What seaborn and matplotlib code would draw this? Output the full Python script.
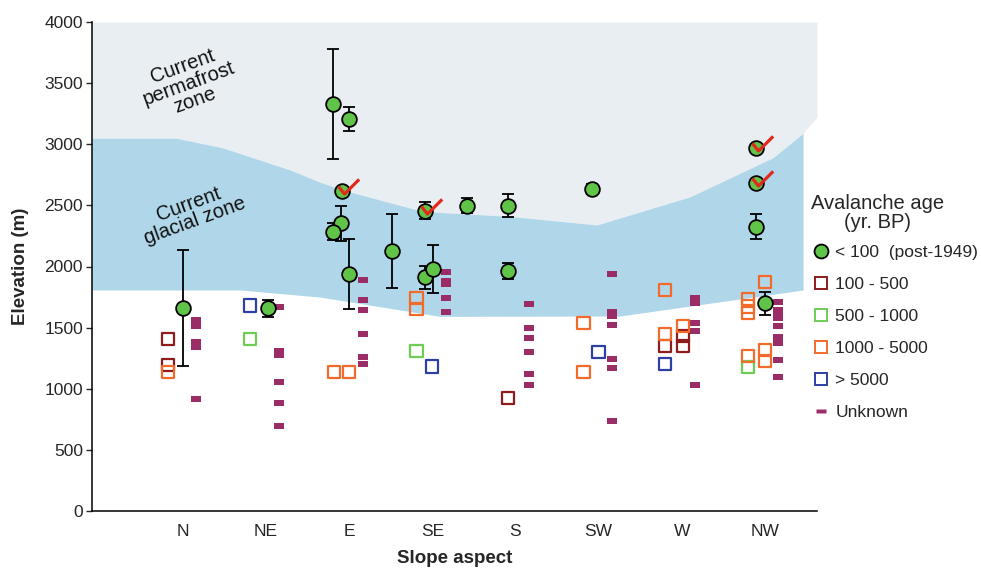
import numpy as np
import pandas as pd
import matplotlib
matplotlib.use("Agg")
import matplotlib.pyplot as plt
import seaborn as sns
from matplotlib.lines import Line2D
from matplotlib.path import Path

# ---------------------------------------------------------------- data
ASPECTS = ["N", "NE", "E", "SE", "S", "SW", "W", "NW"]
Y_TICKS = [0, 500, 1000, 1500, 2000, 2500, 3000, 3500, 4000]

# post-1949 avalanches (dated from imagery), with elevation uncertainty
recent_aspect = ["N", "NE", "E", "E", "E", "E", "E", "E", "E",
                 "SE", "SE", "SE", "SE", "S", "S", "SW",
                 "NW", "NW", "NW", "NW"]
recent_elev = [1660, 1658, 3327, 3207, 2620, 2353, 2285, 1939, 2127,
               2456, 1912, 1977, 2497, 2497, 1963, 2632,
               2967, 2686, 2326, 1699]
recent_err = [475, 70, 450, 100, 0, 145, 70, 290, 300,
              70, 95, 197, 60, 93, 63, 40,
              25, 0, 100, 95]
recent_flagged = [False, False, False, False, True, False, False, False, False,
                  True, False, False, False, False, False, False,
                  True, True, False, False]

# older deposits, by age class
older_aspect = ["N", "N", "N", "NE", "NE", "E", "E",
                "SE", "SE", "SE", "SE", "S", "SW", "SW", "SW",
                "W", "W", "W", "W", "W", "W", "W",
                "NW", "NW", "NW", "NW", "NW", "NW", "NW", "NW"]
older_elev = [1404, 1192, 1135, 1680, 1404, 1137, 1137,
              1740, 1652, 1311, 1181, 922, 1540, 1137, 1298,
              1808, 1448, 1350, 1202, 1511, 1432, 1348,
              1737, 1672, 1617, 1270, 1175, 1871, 1317, 1229]
older_age = ["100 - 500", "100 - 500", "1000 - 5000", "> 5000", "500 - 1000",
             "1000 - 5000", "1000 - 5000",
             "1000 - 5000", "1000 - 5000", "500 - 1000", "> 5000", "100 - 500",
             "1000 - 5000", "1000 - 5000", "> 5000",
             "1000 - 5000", "1000 - 5000", "100 - 500", "> 5000",
             "1000 - 5000", "100 - 500", "100 - 500",
             "1000 - 5000", "1000 - 5000", "1000 - 5000", "1000 - 5000",
             "500 - 1000", "1000 - 5000", "1000 - 5000", "1000 - 5000"]

# undated deposits
unknown_aspect = (["N"] * 5 + ["NE"] * 6 + ["E"] * 6 + ["SE"] * 5 +
                  ["S"] * 6 + ["SW"] * 7 + ["W"] * 5 + ["NW"] * 9)
unknown_elev = [1565, 1513, 1380, 1342, 914,
                1671, 1309, 1274, 1058, 883, 698,
                1887, 1726, 1644, 1445, 1257, 1205,
                1952, 1884, 1855, 1740, 1630,
                1693, 1500, 1418, 1298, 1123, 1031,
                1939, 1631, 1595, 1519, 1246, 1167, 736,
                1740, 1700, 1540, 1472, 1031,
                1712, 1644, 1617, 1576, 1513, 1421, 1377, 1235, 1099]

# current glacial zone (upper and lower limits) along the aspect axis
glacier_top_x = [-1.095, -0.084, 0.482, 1.288, 1.649, 1.925, 2.888, 3.935,
                 4.982, 6.101, 7.100, 7.461]
glacier_top_elev = [3050, 3050, 2970, 2790, 2690, 2625, 2450, 2410,
                    2340, 2570, 2890, 3090]
glacier_bottom_x = [-1.095, 0.686, 1.649, 3.093, 5.259, 7.461]
glacier_bottom_elev = [1808, 1808, 1750, 1592, 1595, 1808]
permafrost_edge_x = 7.629
permafrost_edge_elev = 3220

AGE_CLASSES = ["100 - 500", "500 - 1000", "1000 - 5000", "> 5000"]

# ---------------------------------------------------------------- styling
GREEN = "#5fc447"
AGE_COLORS = {"100 - 500": "#8e1c1c", "500 - 1000": "#6dcd55",
              "1000 - 5000": "#f26b2a", "> 5000": "#2e40a3"}
UNKNOWN_COLOR = "#9b2d66"
CHECK_COLOR = "#e2291c"
PERMAFROST_COLOR = "#e8eef1"
GLACIER_COLOR = "#b0d7e9"

# horizontal lanes inside each aspect group
recent_lane = [0.0, 0.02, -0.19, 0.0, -0.09, -0.10, -0.20, 0.0, 0.52,
               -0.09, -0.09, 0.01, 0.42, -0.09, -0.09, -0.08,
               -0.10, -0.10, -0.10, 0.0]
older_lane = [-0.18, -0.18, -0.18, -0.19, -0.19, -0.18, 0.0,
              -0.19, -0.19, -0.19, 0.0, -0.09, -0.18, -0.18, 0.0,
              -0.20, -0.20, -0.20, -0.20, 0.02, 0.02, 0.02,
              -0.20, -0.20, -0.20, -0.20, -0.20, 0.0, 0.0, 0.0]
UNKNOWN_LANE = 0.16

sns.set_theme(style="ticks")
plt.rcParams["font.family"] = ["Liberation Sans", "DejaVu Sans"]

pos = {a: i for i, a in enumerate(ASPECTS)}

recent = pd.DataFrame({"aspect": recent_aspect, "elev": recent_elev,
                       "err": recent_err, "flag": recent_flagged})
recent["x"] = [pos[a] + d for a, d in zip(recent_aspect, recent_lane)]

older = pd.DataFrame({"aspect": older_aspect, "elev": older_elev,
                      "age": older_age})
older["x"] = [pos[a] + d for a, d in zip(older_aspect, older_lane)]

unknown = pd.DataFrame({"aspect": unknown_aspect, "elev": unknown_elev})
unknown["x"] = [pos[a] + UNKNOWN_LANE for a in unknown_aspect]

W, H = 981, 573
fig = plt.figure(figsize=(W / 100, H / 100), dpi=100)
ax = fig.add_axes([92 / W, 1 - 511 / H, (817 - 92) / W, (511 - 22) / H])

xmin, xmax = -1.095, 7.629
ax.set_xlim(xmin, xmax)
ax.set_ylim(0, 4000)

# zones
gx = np.array(glacier_top_x)
gy = np.array(glacier_top_elev)
perm_x = np.r_[gx, permafrost_edge_x]
perm_y = np.r_[gy, permafrost_edge_elev]
ax.fill_between(perm_x, perm_y, 4000, color=PERMAFROST_COLOR, lw=0, zorder=0)
xs = np.union1d(gx, glacier_bottom_x)
ax.fill_between(xs, np.interp(xs, glacier_bottom_x, glacier_bottom_elev),
                np.interp(xs, gx, gy), color=GLACIER_COLOR, lw=0, zorder=0.5)

ax.text(0.07, 3500, "Current\npermafrost\nzone", rotation=20, ha="center",
        va="center", multialignment="center", fontsize=14.5, linespacing=0.95,
        rotation_mode="anchor", color="#111111", zorder=1)
ax.text(0.11, 2440, "Current\nglacial zone", rotation=20, ha="center",
        va="center", multialignment="center", fontsize=14.5, linespacing=0.95,
        rotation_mode="anchor", color="#111111", zorder=1)

# undated deposits: short bars
bar_marker = Path([(-1, -0.5), (1, -0.5), (1, 0.5), (-1, 0.5), (-1, -0.5)],
                  [Path.MOVETO, Path.LINETO, Path.LINETO, Path.LINETO,
                   Path.CLOSEPOLY])
sns.scatterplot(data=unknown, x="x", y="elev", marker=bar_marker, s=55,
                color=UNKNOWN_COLOR, linewidth=0, ax=ax, zorder=2,
                legend=False)

# older deposits: hollow squares
for age in AGE_CLASSES:
    sub = older[older["age"] == age]
    sns.scatterplot(data=sub, x="x", y="elev", marker="s", s=78,
                    facecolor="none", edgecolor=AGE_COLORS[age],
                    linewidth=1.6, ax=ax, zorder=3, legend=False)

# recent events with uncertainty
eb = recent[recent["err"] > 0]
ax.errorbar(eb["x"], eb["elev"], yerr=eb["err"], fmt="none", ecolor="black",
            elinewidth=1.3, capsize=4.3, capthick=1.3, zorder=4)
sns.scatterplot(data=recent, x="x", y="elev", marker="o", s=112,
                color=GREEN, edgecolor="black", linewidth=1.3, ax=ax,
                zorder=5, legend=False)

check = Path([(-4, 5), (2, -2.5), (16.5, 12)],
             [Path.MOVETO, Path.LINETO, Path.LINETO])
fl = recent[recent["flag"]]
ax.plot(fl["x"], fl["elev"], ls="none", marker=check, markersize=24,
        mfc="none", mec=CHECK_COLOR, mew=2.3, zorder=6)

# axes
ax.set_xticks(range(len(ASPECTS)))
ax.set_xticklabels(ASPECTS)
ax.set_yticks(Y_TICKS)
ax.tick_params(axis="x", length=0, pad=9, labelsize=12.5)
ax.tick_params(axis="y", length=4, width=1, pad=2.5, labelsize=12.5,
               direction="out")
for s in ["top", "right"]:
    ax.spines[s].set_visible(False)
for s in ["left", "bottom"]:
    ax.spines[s].set_color("black")
    ax.spines[s].set_linewidth(1.1)
ax.set_xlabel("Slope aspect", fontsize=13.5, fontweight="bold", labelpad=8)
ax.set_ylabel("Elevation (m)", fontsize=13.5, fontweight="bold", labelpad=11)
ax.set_facecolor("white")

# legend: title block and entries
fig.text(878 / W, 1 - 213 / H, "Avalanche age\n(yr. BP)", ha="center",
         va="center", multialignment="center", fontsize=14.5, linespacing=1.0)
handles = [Line2D([], [], ls="none", marker="o", ms=10, mfc=GREEN, mec="black",
                  mew=1.3, label="< 100  (post-1949)")]
for age in AGE_CLASSES:
    handles.append(Line2D([], [], ls="none", marker="s", ms=8.5, mfc="none",
                          mec=AGE_COLORS[age], mew=1.4, label=age))
handles.append(Line2D([], [], ls="none", marker=bar_marker, ms=7,
                      mfc=UNKNOWN_COLOR, mec="none", label="Unknown"))
leg = fig.legend(handles=handles, loc="upper left",
                 bbox_to_anchor=(812 / W, 1 - 245 / H),
                 frameon=False, fontsize=12.5,
                 handlelength=1.0, handletextpad=0.35, labelspacing=0.97,
                 borderpad=0, borderaxespad=0)

fig.savefig("out.png", dpi=100)
